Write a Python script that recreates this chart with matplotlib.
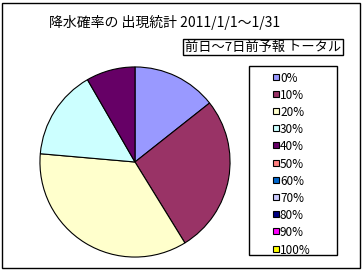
import matplotlib.pyplot as plt
from matplotlib.patches import Rectangle

plt.rcParams['font.family'] = ['Noto Sans CJK JP', 'DejaVu Sans']

labels = ['0%', '10%', '20%', '30%', '40%', '50%', '60%', '70%', '80%', '90%', '100%']
counts = [31, 58, 76, 33, 18, 0, 0, 0, 0, 0, 0]
colors = ['#9999FF', '#993366', '#FFFFCC', '#CCFFFF', '#660066', '#FF8080',
          '#0066CC', '#CCCCFF', '#000080', '#FF00FF', '#FFFF00']

W, H = 363, 270
fig = plt.figure(figsize=(W / 100, H / 100), dpi=100)

# outer frame
fig.patches.append(Rectangle((2 / W, 2 / H), 358 / W, 265 / H, transform=fig.transFigure,
                             fill=False, edgecolor='black', linewidth=1))

fig.text(165 / W, 1 - 22 / H, '降水確率の 出現統計 2011/1/1～1/31', ha='center', va='center', fontsize=10)
fig.text(263 / W, 1 - 47 / H, '前日～7日前予報 トータル', ha='center', va='center', fontsize=9.5,
         bbox=dict(boxstyle='square,pad=0.15', facecolor='white', edgecolor='black', linewidth=1))

# pie
cx, cy, r = 135, 162, 96
ax = fig.add_axes([(cx - r) / W, (H - cy - r) / H, 2 * r / W, 2 * r / H])
vals = [v for v in counts if v > 0]
cols = [c for v, c in zip(counts, colors) if v > 0]
ax.pie(vals, colors=cols, startangle=90, counterclock=False, radius=1,
       wedgeprops=dict(edgecolor='black', linewidth=0.8))
ax.set_xlim(-1.01, 1.01)
ax.set_ylim(-1.01, 1.01)
ax.set_aspect('equal')
ax.axis('off')

# legend box
fig.patches.append(Rectangle((249 / W, 1 - 255 / H), 88 / W, 189 / H, transform=fig.transFigure,
                             fill=False, edgecolor='black', linewidth=1))
y0, dy = 76.5, 17.2
for i, (lab, col) in enumerate(zip(labels, colors)):
    y = y0 + i * dy
    fig.patches.append(Rectangle((273 / W, 1 - (y + 3) / H), 6 / W, 6 / H, transform=fig.transFigure,
                                 facecolor=col, edgecolor='black', linewidth=0.8))
    fig.text(280 / W, 1 - (y + 1.5) / H, lab, ha='left', va='center', fontsize=8.5)

fig.savefig('out.png', dpi=100)
